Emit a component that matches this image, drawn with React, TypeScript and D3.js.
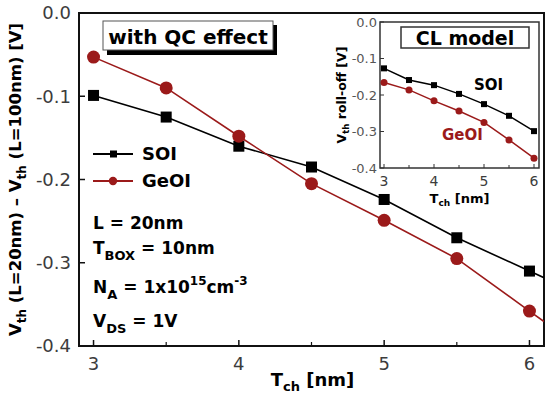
import React from "react";
import * as d3 from "d3";

// channel thickness T_ch [nm]
const tch = [3, 3.5, 4, 4.5, 5, 5.5, 6];

// threshold voltage roll-off with QC effect [V]
const soiQC = [-0.099, -0.125, -0.16, -0.185, -0.224, -0.27, -0.31];
const geoiQC = [-0.053, -0.09, -0.148, -0.205, -0.249, -0.295, -0.358];

// classical (CL) model roll-off [V]
const soiCL = [-0.127, -0.159, -0.173, -0.197, -0.225, -0.257, -0.299];
const geoiCL = [-0.166, -0.186, -0.216, -0.244, -0.275, -0.323, -0.373];

const yTicks = [0, -0.1, -0.2, -0.3, -0.4];
const xTicks = [3, 4, 5, 6];
const xMinor = [3.5, 4.5, 5.5];
const seriesNames = ["SOI", "GeOI"];

const RED = "#9b1a1a";
const GRAY = "#3c3c3c";
const FONT = "DejaVu Sans";

type Scale = d3.ScaleLinear<number, number>;

// extend the last segment up to the right edge of the domain (clipped by the frame)
function withTail(xs: number[], ys: number[], sx: Scale): [number, number][] {
  const pts: [number, number][] = xs.map((v, i) => [v, ys[i]]);
  const n = xs.length;
  const slope = (ys[n - 1] - ys[n - 2]) / (xs[n - 1] - xs[n - 2]);
  const xEnd = sx.domain()[1];
  pts.push([xEnd, ys[n - 1] + slope * (xEnd - xs[n - 1])]);
  return pts;
}

function Series({ xs, ys, sx, sy, color, shape, size, width, tail, clip }: any) {
  const line = d3
    .line<[number, number]>()
    .x((d) => sx(d[0]))
    .y((d) => sy(d[1]));
  const pts: [number, number][] = tail ? withTail(xs, ys, sx) : xs.map((v: number, i: number) => [v, ys[i]]);
  return (
    <g>
      <path d={line(pts) || ""} fill="none" stroke={color} strokeWidth={width} clipPath={clip} />
      {xs.map((v: number, i: number) =>
        shape === "square" ? (
          <rect key={i} x={sx(v) - size / 2} y={sy(ys[i]) - size / 2} width={size} height={size} fill={color} />
        ) : (
          <circle key={i} cx={sx(v)} cy={sy(ys[i])} r={size / 2} fill={color} />
        )
      )}
    </g>
  );
}

export default function App() {
  const W = 553,
    H = 396;

  // main plot
  const x = d3.scaleLinear().domain([2.9, 6.1]).range([79, 544]);
  const y = d3.scaleLinear().domain([-0.4, 0]).range([346, 13]);
  // inset plot
  const ix = d3.scaleLinear().domain([2.92, 6.1]).range([380, 539]);
  const iy = d3.scaleLinear().domain([-0.4, 0]).range([168, 22]);

  const [x0, x1] = x.range();
  const [y0, y1] = y.range();
  const [ix0, ix1] = ix.range();
  const [iy0, iy1] = iy.range();

  return (
    <svg
      width={W}
      height={H}
      style={{ position: "absolute", left: 0, top: 0, background: "#fff" }}
      fontFamily={FONT}
    >
      <defs>
        <clipPath id="main-clip">
          <rect x={x0} y={y1} width={x1 - x0} height={y0 - y1} />
        </clipPath>
      </defs>

      {/* main frame */}
      <rect x={x0} y={y1} width={x1 - x0} height={y0 - y1} fill="none" stroke="#111" strokeWidth={2} />
      {yTicks.map((t) => (
        <g key={t}>
          <line x1={x0} x2={x0 + 6} y1={y(t)} y2={y(t)} stroke="#111" strokeWidth={1.5} />
          <text x={x0 - 8} y={y(t)} dy="0.36em" textAnchor="end" fontSize={18} fill={GRAY}>
            {t === 0 ? "0.0" : t.toFixed(1)}
          </text>
        </g>
      ))}
      {xTicks.map((t) => (
        <g key={t}>
          <line x1={x(t)} x2={x(t)} y1={y0} y2={y0 - 6} stroke="#111" strokeWidth={1.5} />
          <text x={x(t)} y={370} textAnchor="middle" fontSize={18} fill={GRAY}>
            {t}
          </text>
        </g>
      ))}
      {xMinor.map((t) => (
        <line key={t} x1={x(t)} x2={x(t)} y1={y0} y2={y0 - 4} stroke="#111" strokeWidth={1.2} />
      ))}

      {/* axis titles */}
      <text x={W / 2 + 36} y={386} textAnchor="middle" fontSize={18} fontWeight="bold">
        T<tspan fontSize={13} dy={5}>ch</tspan>
        <tspan dy={-5}> [nm]</tspan>
      </text>
      <text transform={`translate(21,${(y0 + y1) / 2}) rotate(-90)`} textAnchor="middle" fontSize={16.5} fontWeight="bold">
        V<tspan fontSize={12} dy={5}>th</tspan>
        <tspan dy={-5}> (L=20nm) – V</tspan>
        <tspan fontSize={12} dy={5}>th</tspan>
        <tspan dy={-5}> (L=100nm) [V]</tspan>
      </text>

      {/* data */}
      <Series xs={tch} ys={soiQC} sx={x} sy={y} color="#000" shape="square" size={11} width={1.6} tail clip="url(#main-clip)" />
      <Series xs={tch} ys={geoiQC} sx={x} sy={y} color={RED} shape="circle" size={13} width={1.6} tail clip="url(#main-clip)" />

      {/* legend */}
      {seriesNames.map((name, i) => {
        const ly = 154 + i * 27;
        const color = i === 0 ? "#000" : RED;
        return (
          <g key={name}>
            <line x1={93} x2={133} y1={ly} y2={ly} stroke={color} strokeWidth={1.8} />
            {i === 0 ? (
              <rect x={110} y={ly - 3.5} width={7} height={7} fill={color} />
            ) : (
              <circle cx={113} cy={ly} r={4.2} fill={color} />
            )}
            <text x={142} y={ly} dy="0.36em" fontSize={18} fontWeight="bold">
              {name}
            </text>
          </g>
        );
      })}

      {/* "with QC effect" label box */}
      <rect x={107} y={25} width={170} height={30} fill="#000" />
      <rect x={103} y={21} width={170} height={29} fill="#fff" stroke="#555" strokeWidth={1} />
      <text x={188} y={44} textAnchor="middle" fontSize={20} fontWeight="bold">
        with QC effect
      </text>

      {/* device parameters */}
      <g fontSize={17} fontWeight="bold">
        <text x={93} y={229}>L = 20nm</text>
        <text x={93} y={254}>
          T<tspan fontSize={13} dy={6}>BOX</tspan>
          <tspan dy={-6}> = 10nm</tspan>
        </text>
        <text x={93} y={293}>
          N<tspan fontSize={13} dy={6}>A</tspan>
          <tspan dy={-6}> = 1x10</tspan>
          <tspan fontSize={12} dy={-8}>15</tspan>
          <tspan dy={8}>cm</tspan>
          <tspan fontSize={12} dy={-8}>-3</tspan>
        </text>
        <text x={93} y={327}>
          V<tspan fontSize={13} dy={6}>DS</tspan>
          <tspan dy={-6}> = 1V</tspan>
        </text>
      </g>

      {/* inset: CL model */}
      <rect x={ix0} y={iy1} width={ix1 - ix0} height={iy0 - iy1} fill="#fff" stroke="#333" strokeWidth={1.5} />
      {yTicks.map((t) => (
        <g key={t}>
          <line x1={ix0} x2={ix0 + 4} y1={iy(t)} y2={iy(t)} stroke="#333" strokeWidth={1} />
          <text x={ix0 - 3} y={iy(t)} dy="0.36em" textAnchor="end" fontSize={13} fill="#555">
            {t === 0 ? "0.0" : t.toFixed(1)}
          </text>
        </g>
      ))}
      {xTicks.map((t) => (
        <g key={t}>
          <line x1={ix(t)} x2={ix(t)} y1={iy0} y2={iy0 - 4} stroke="#333" strokeWidth={1} />
          <text x={ix(t)} y={186} textAnchor="middle" fontSize={14} fill={GRAY}>
            {t}
          </text>
        </g>
      ))}
      {xMinor.map((t) => (
        <line key={t} x1={ix(t)} x2={ix(t)} y1={iy0} y2={iy0 - 3} stroke="#333" strokeWidth={1} />
      ))}
      <text x={(ix0 + ix1) / 2} y={203} textAnchor="middle" fontSize={13} fontWeight="bold">
        T<tspan fontSize={9} dy={3}>ch</tspan>
        <tspan dy={-3}> [nm]</tspan>
      </text>
      <text transform={`translate(346,${(iy0 + iy1) / 2}) rotate(-90)`} textAnchor="middle" fontSize={12.5} fontWeight="bold">
        V<tspan fontSize={8.5} dy={3}>th</tspan>
        <tspan dy={-3}> roll-off [V]</tspan>
      </text>

      <Series xs={tch} ys={soiCL} sx={ix} sy={iy} color="#000" shape="square" size={6} width={1.5} />
      <Series xs={tch} ys={geoiCL} sx={ix} sy={iy} color={RED} shape="circle" size={7} width={1.5} />

      <text x={474} y={90} fontSize={15} fontWeight="bold">
        {seriesNames[0]}
      </text>
      <text x={442} y={140} fontSize={15} fontWeight="bold" fill={RED}>
        {seriesNames[1]}
      </text>

      <rect x={401} y={27} width={128} height={21} fill="#fff" stroke="#333" strokeWidth={1.5} />
      <text x={465} y={45} textAnchor="middle" fontSize={19} fontWeight="bold">
        CL model
      </text>
    </svg>
  );
}
